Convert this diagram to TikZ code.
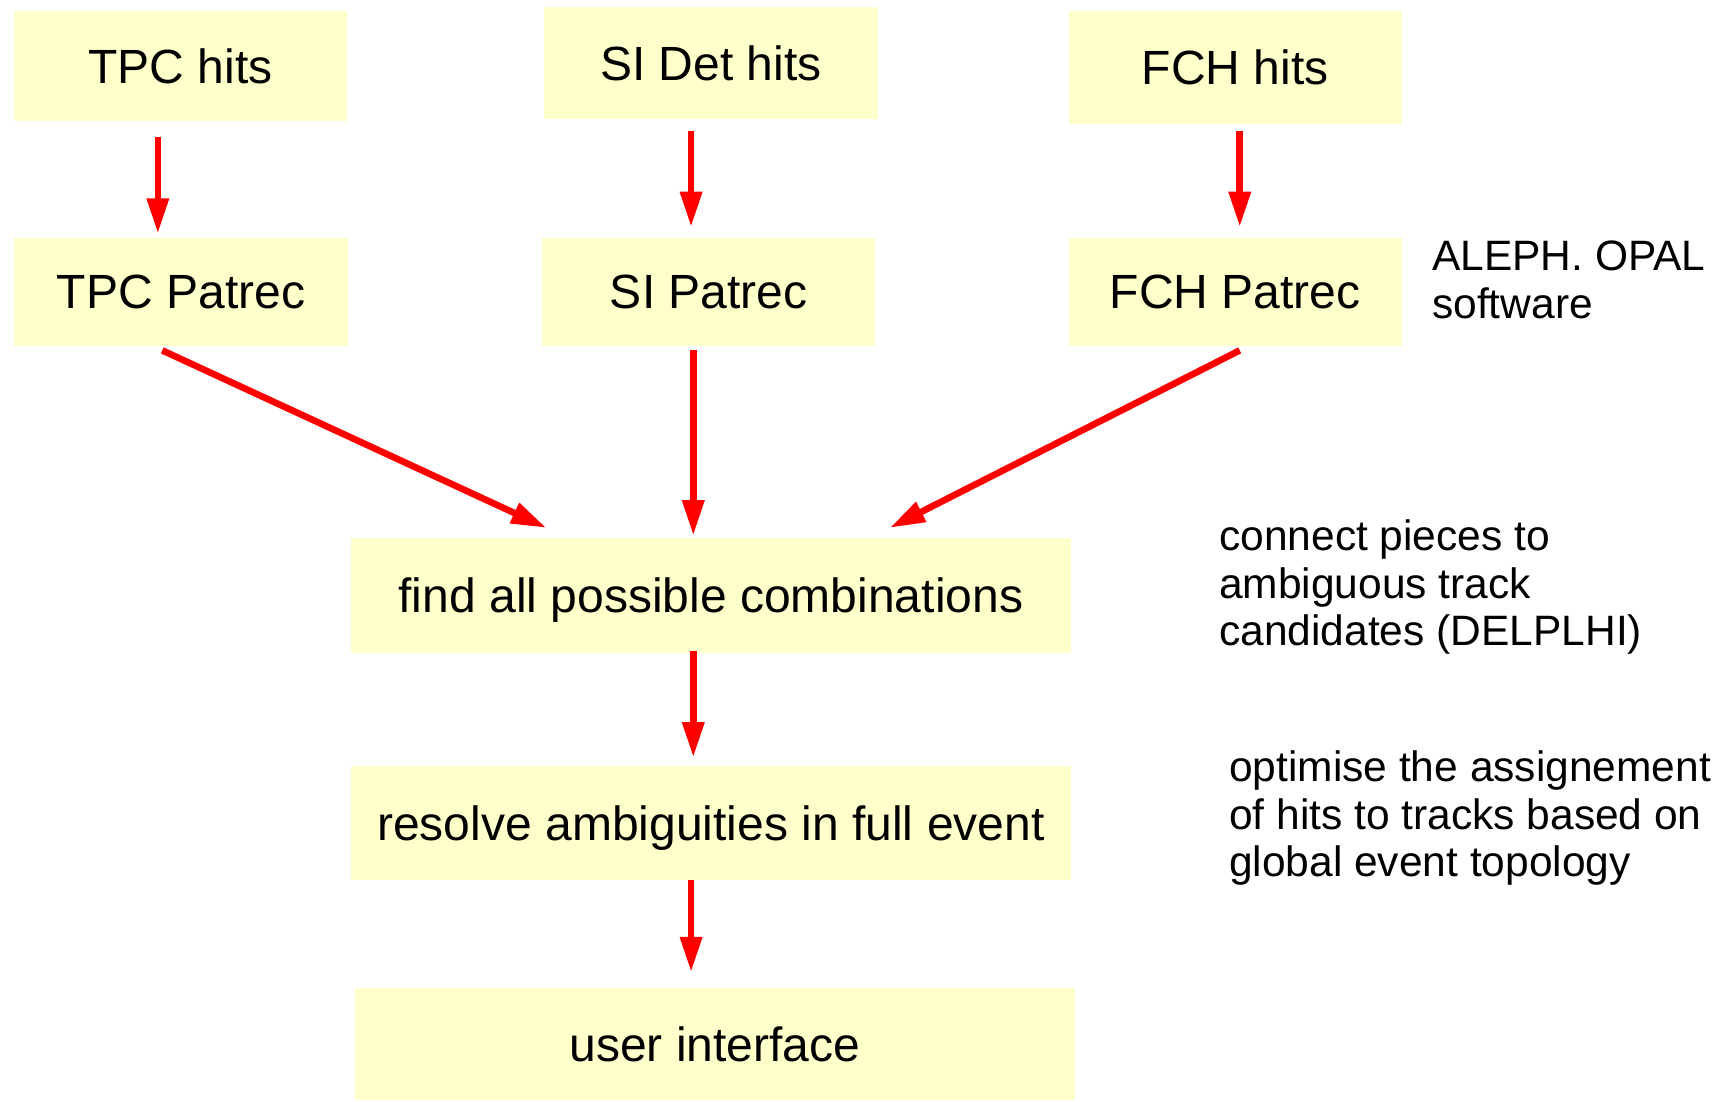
\documentclass[tikz,border=0pt]{standalone}
\usepackage{fontspec}
\setmainfont{Liberation Sans}
\usetikzlibrary{arrows.meta,calc}
\definecolor{boxfill}{HTML}{FFFFCC}
\definecolor{arrred}{HTML}{FF0000}

\begin{document}
\begin{tikzpicture}[x=0.5pt,y=-0.5pt,
    box/.style={fill=boxfill, inner sep=0pt, minimum width=151pt,
      minimum height=50pt, text depth=0pt,
      font=\fontsize{21.75}{26}\selectfont},
    widebox/.style={box, minimum width=326pt, minimum height=52pt},
    note/.style={anchor=west, align=left, inner sep=0pt,
      font=\fontsize{19.25}{21.5}\selectfont},
    arr/.style={draw=arrred, line width=3pt,
      -{Triangle[length=16pt,width=9.5pt]}}]

      % Frame
      \useasboundingbox (0,0) rectangle (1568,998);

      % hits
      \node[box] (tpchits) at (163.5,60) {TPC hits};
      \node[box, minimum height=51pt] (sihits) at (644,57) {SI Det hits};
      \node[box, minimum height=51pt] (fchhits) at (1119,61) {FCH hits};

      % patrec
      \node[box, minimum height=48.5pt] (tpcpat) at (164,264.5) {TPC Patrec};
      \node[box, minimum height=48.5pt] (sipat) at (642,264.5) {SI Patrec};
      \node[box, minimum height=48.5pt] (fchpat) at (1119,264.5) {FCH Patrec};

      % combination, ambiguities, interface
      \node[widebox] (find) at (644,539.5) {find all possible combinations};
      \node[widebox] (resolve) at (644,745.5) {resolve ambiguities in full event};
      \node[widebox, minimum height=50.5pt] (user) at (647.5,945.5) {user interface};

      % arrows
      \draw[arr] ($(tpchits.south)+(-20.5,14)$) -- ($(tpcpat.north)+(-21,-4)$);
      \draw[arr] ($(sihits.south)+(-18,10)$) -- ($(sipat.north)+(-16,-10)$);
      \draw[arr] ($(fchhits.south)+(4,6)$) -- ($(fchpat.north)+(4,-10)$);

      \draw[arr] ($(tpcpat.south)+(-17,4)$) -- ($(find.north)+(-149,-9)$);
      \draw[arr] ($(sipat.south)+(-14,4)$) -- ($(find.north)+(-16,-2)$);
      \draw[arr] ($(fchpat.south)+(4,4)$) -- ($(find.north)+(162,-9)$);

      \draw[arr] ($(find.south)+(-16,-2)$) -- ($(resolve.north)+(-16,-7)$);
      \draw[arr] ($(resolve.south)+(-18,-1)$) -- ($(user.north)+(-21.5,-14)$);

      % notes
      \node[note] (aleph) at (1297,253.5) {ALEPH. OPAL\\software};
      \node[note] (connect) at (1104,532) {connect pieces to\\ambiguous track\\candidates (DELPLHI)};
      \node[note] (optimise) at (1113,741) {optimise the assignement\\of hits to tracks based on\\global event topology};
\end{tikzpicture}
\end{document}
